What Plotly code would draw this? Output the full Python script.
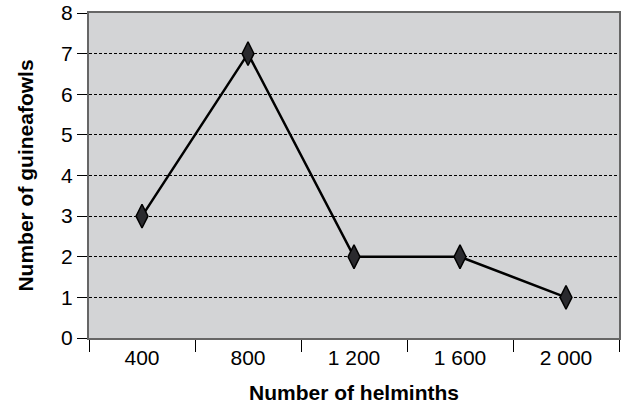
import plotly.graph_objects as go

categories = ["400", "800", "1 200", "1 600", "2 000"]
guineafowls = [3, 7, 2, 2, 1]

fig = go.Figure()
fig.add_trace(go.Scatter(
    x=categories, y=guineafowls, mode="lines+markers",
    line=dict(color="black", width=2.5),
    marker=dict(symbol="diamond-tall", size=17, color="#2a2a2e",
                line=dict(color="black", width=1.5)),
    showlegend=False,
))

fig.update_layout(
    width=621, height=416,
    margin=dict(l=89, r=2, t=13, b=78),
    paper_bgcolor="white", plot_bgcolor="#d3d4d6",
    font=dict(family="Liberation Sans, Arial, sans-serif", size=21, color="black"),
    xaxis=dict(
        type="category", tickson="boundaries", ticks="outside", ticklen=12,
        tickcolor="black", tickwidth=1, showgrid=False,
        showline=True, linecolor="#666666", linewidth=2, mirror=True,
        range=[-0.5, 4.5], automargin=False,
        title=dict(text="<b>Number of helminths</b>", font=dict(size=21), standoff=17),
        tickfont=dict(size=21),
    ),
    yaxis=dict(
        range=[0, 8], dtick=1, ticks="outside", ticklen=10, tickcolor="black",
        showgrid=True, gridcolor="black", griddash="3px,2px", gridwidth=1,
        showline=True, linecolor="#666666", linewidth=2, mirror=True,
        zeroline=False, automargin=False,
        title=dict(text="<b>Number of guineafowls</b>", font=dict(size=21), standoff=22),
        tickfont=dict(size=21),
    ),
)

html = fig.to_html(full_html=True, config={"displayModeBar": False})
html = html.replace("<head>", "<head><style>html,body{margin:0;padding:0;overflow:hidden;}</style>", 1)
with open("out.html", "w", encoding="utf-8") as f:
    f.write(html)
